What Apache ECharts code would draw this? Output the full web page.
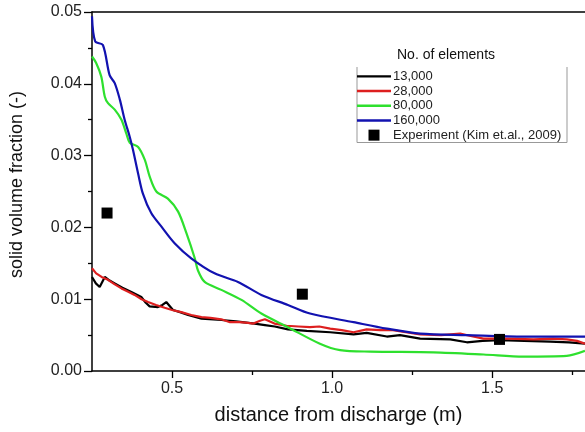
<!DOCTYPE html>
<html>
<head>
<meta charset="utf-8">
<script src="https://cdn.jsdelivr.net/npm/echarts@6/dist/echarts.min.js"></script>
<style>
html,body{margin:0;padding:0;background:#fff;}
#chart{width:585px;height:432px;}
</style>
</head>
<body>
<div id="chart"></div>
<script>
// ---- data ----
const seriesNames = ['13,000', '28,000', '80,000', '160,000', 'Experiment (Kim et.al., 2009)'];
const xMajorTicks = [0.5, 1.0, 1.5];
const xMinorTicks = [0.75, 1.25, 1.75];

const s13k = [
  [0.250,0.0131],[0.262,0.0122],[0.274,0.0117],[0.290,0.0131],[0.305,0.0126],[0.321,0.0122],
  [0.345,0.0116],[0.373,0.0110],[0.404,0.0103],[0.418,0.0095],[0.430,0.0090],[0.456,0.0089],
  [0.470,0.0092],[0.482,0.0096],[0.503,0.0085],[0.525,0.0082],[0.550,0.0078],[0.592,0.0073],
  [0.654,0.0071],[0.700,0.0069],[0.758,0.0066],[0.790,0.0064],[0.821,0.0062],[0.862,0.0058],
  [0.921,0.0056],[0.994,0.0054],[1.067,0.0051],[1.108,0.0053],[1.171,0.0048],[1.212,0.0050],
  [1.275,0.0045],[1.369,0.0044],[1.421,0.0040],[1.470,0.0042],[1.525,0.0043],[1.600,0.0042],
  [1.681,0.0041],[1.740,0.0040],[1.790,0.0038]
];
const s28k = [
  [0.250,0.0143],[0.263,0.0136],[0.280,0.0131],[0.300,0.0127],[0.320,0.0121],[0.342,0.0115],
  [0.360,0.0111],[0.383,0.0106],[0.405,0.0100],[0.425,0.0096],[0.450,0.0092],[0.477,0.0088],
  [0.500,0.0085],[0.529,0.0082],[0.560,0.0078],[0.592,0.0075],[0.620,0.0074],[0.654,0.0072],
  [0.681,0.0068],[0.710,0.0068],[0.737,0.0067],[0.754,0.0066],[0.775,0.0070],[0.790,0.0072],
  [0.820,0.0066],[0.858,0.0063],[0.895,0.0062],[0.931,0.0061],[0.960,0.0062],[0.994,0.0059],
  [1.030,0.0057],[1.067,0.0054],[1.108,0.0058],[1.150,0.0057],[1.190,0.0057],[1.230,0.0054],
  [1.275,0.0051],[1.340,0.0050],[1.400,0.0052],[1.440,0.0048],[1.473,0.0045],[1.550,0.0045],
  [1.629,0.0044],[1.690,0.0045],[1.733,0.0044],[1.765,0.0042],[1.790,0.0038]
];
const s80k = [
  [0.250,0.0438],[0.263,0.0429],[0.279,0.0410],[0.290,0.0382],[0.300,0.0373],[0.321,0.0364],
  [0.342,0.0350],[0.357,0.0331],[0.368,0.0318],[0.394,0.0312],[0.415,0.0294],[0.430,0.0271],
  [0.451,0.0250],[0.487,0.0240],[0.519,0.0222],[0.545,0.0192],[0.571,0.0157],[0.581,0.0140],
  [0.602,0.0124],[0.654,0.0113],[0.717,0.0099],[0.779,0.0080],[0.862,0.0061],[0.962,0.0038],
  [1.025,0.0029],[1.119,0.0027],[1.317,0.0026],[1.473,0.0023],[1.598,0.0020],[1.733,0.0021],
  [1.790,0.0028]
];
const s160k = [
  [0.250,0.0494],[0.260,0.0459],[0.284,0.0454],[0.305,0.0412],[0.321,0.0401],[0.337,0.0378],
  [0.352,0.0350],[0.368,0.0326],[0.378,0.0308],[0.394,0.0275],[0.409,0.0247],[0.435,0.0220],
  [0.467,0.0201],[0.508,0.0178],[0.560,0.0157],[0.633,0.0136],[0.706,0.0124],[0.779,0.0106],
  [0.862,0.0092],[0.931,0.0080],[1.067,0.0068],[1.171,0.0059],[1.275,0.0052],[1.421,0.0050],
  [1.600,0.0048],[1.790,0.0048]
];
const experiment = [[0.297,0.0220],[0.907,0.0107],[1.523,0.0044]];

const FONT = '"Liberation Sans", Arial, sans-serif';
const LINE_ICON = 'path://M0,0h34v2.4h-34z';
const chart = echarts.init(document.getElementById('chart'), null, {renderer: 'canvas'});

function lineSeries(name, data, color, smooth) {
  return {
    name: name, type: 'line', data: data, xAxisIndex: 0, yAxisIndex: 0,
    symbol: 'none', showSymbol: false, smooth: smooth,
    lineStyle: {color: color, width: 2.2}, itemStyle: {color: color},
    clip: true, animation: false
  };
}

chart.setOption({
  animation: false,
  backgroundColor: '#fff',
  grid: {left: 92, right: 0, top: 12, bottom: 61, containLabel: false},
  title: {
    text: 'No. of elements', left: 392, top: 42,
    textStyle: {fontFamily: FONT, fontSize: 14, fontWeight: 'normal', color: '#111', lineHeight: 16}
  },
  legend: {
    orient: 'vertical', left: 357, top: 69, padding: 0,
    itemWidth: 34, itemHeight: 11, itemGap: 0, symbolKeepAspect: true,
    textStyle: {fontFamily: FONT, fontSize: 13, color: '#222', lineHeight: 14.7, padding: [0,0,0,-3]},
    data: [
      {name: seriesNames[0], icon: LINE_ICON}, {name: seriesNames[1], icon: LINE_ICON},
      {name: seriesNames[2], icon: LINE_ICON}, {name: seriesNames[3], icon: LINE_ICON},
      {name: seriesNames[4], icon: 'path://M0,0h10v10h-10z'}
    ]
  },
  graphic: [{
    type: 'polyline', silent: true,
    shape: {points: [[357,67],[357,142.5],[567,142.5],[567,67]]},
    style: {stroke: '#999', lineWidth: 1, fill: null}
  }],
  xAxis: [{
    type: 'value', position: 'bottom', min: 0.25, max: 1.79,
    name: 'distance from discharge (m)', nameLocation: 'middle', nameGap: 34,
    nameTextStyle: {fontFamily: FONT, fontSize: 20, color: '#111'},
    axisLine: {show: true, lineStyle: {color: '#000', width: 1.5}},
    axisTick: {show: true, inside: false, length: 7, customValues: xMajorTicks, lineStyle: {color: '#000', width: 1.3}},
    axisLabel: {show: true, customValues: xMajorTicks, margin: 10,
      formatter: v => v.toFixed(1), fontFamily: FONT, fontSize: 16, color: '#222'},
    splitLine: {show: false}
  }, {
    type: 'value', position: 'bottom', min: 0.25, max: 1.79,
    axisLine: {show: false},
    axisTick: {show: true, length: 4, customValues: xMinorTicks, lineStyle: {color: '#000', width: 1.3}},
    axisLabel: {show: false}, splitLine: {show: false}
  }, {
    type: 'value', position: 'top', min: 0.25, max: 1.79,
    axisLine: {show: true, lineStyle: {color: '#000', width: 1.5}},
    axisTick: {show: false}, axisLabel: {show: false}, splitLine: {show: false}
  }],
  yAxis: {
    type: 'value', min: 0, max: 0.05, interval: 0.01,
    name: 'solid volume fraction (-)', nameLocation: 'middle', nameGap: 66, nameRotate: 90,
    nameTextStyle: {fontFamily: FONT, fontSize: 18, color: '#111', padding: [0,0,0,14]},
    axisLine: {show: true, lineStyle: {color: '#000', width: 1.5}},
    axisTick: {show: true, length: 8, lineStyle: {color: '#000', width: 1.3}},
    minorTick: {show: true, splitNumber: 2, length: 4, lineStyle: {color: '#000', width: 1.3}},
    axisLabel: {formatter: v => v.toFixed(2), fontFamily: FONT, fontSize: 16, color: '#222', margin: 10},
    splitLine: {show: false}
  },
  series: [
    lineSeries(seriesNames[0], s13k, '#000000', false),
    lineSeries(seriesNames[1], s28k, '#dd1f1f', false),
    lineSeries(seriesNames[2], s80k, '#2ee02e', 0.3),
    lineSeries(seriesNames[3], s160k, '#1212b0', 0.3),
    {
      name: seriesNames[4], type: 'scatter', data: experiment, xAxisIndex: 0, yAxisIndex: 0,
      symbol: 'rect', symbolSize: 11, itemStyle: {color: '#000', opacity: 1}, z: 5
    }
  ]
});
</script>
</body>
</html>
